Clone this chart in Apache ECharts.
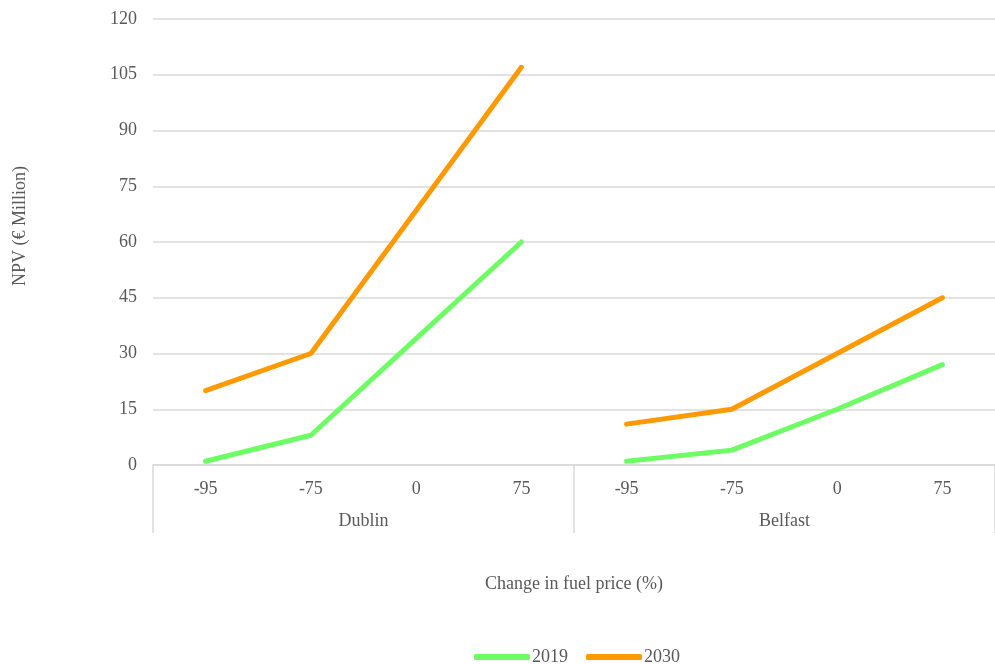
<!DOCTYPE html>
<html>
<head>
<meta charset="utf-8">
<script src="https://cdn.jsdelivr.net/npm/echarts@6/dist/echarts.min.js"></script>
<style>
  html, body { margin: 0; padding: 0; background: #fff; }
  #chart { width: 995px; height: 664px; }
</style>
</head>
<body>
<div id="chart"></div>
<script>
// Fuel price change scenarios, grouped by city
const priceChanges = ['-95', '-75', '0', '75'];
const cities = ['Dublin', 'Belfast'];
const years = ['2019', '2030'];

// NPV (€ Million) per city, per year, in priceChanges order
const dublin2019 = [1, 8, 34, 60];
const dublin2030 = [20, 30, 68.5, 107];
const belfast2019 = [1, 4, 15, 27];
const belfast2030 = [11, 15, 30, 45];

const yTicks = { min: 0, max: 120, interval: 15 };

const colors = { '2019': '#6dfc63', '2030': '#ff9900' };
const textColor = '#595959';
const gridColor = '#d9d9d9';
const fontFamily = '"Liberation Serif", "Times New Roman", serif';
const fontSize = 18;

// Full category list: every price change for each city
const categories = [];
cities.forEach(() => priceChanges.forEach(p => categories.push(p)));

// Place a city's values in its own block of the category axis, gaps elsewhere
function placeInBlock(values, cityIndex) {
  const out = categories.map(() => '-');
  values.forEach((v, i) => { out[cityIndex * priceChanges.length + i] = v; });
  return out;
}

const seriesData = {
  '2019': [dublin2019, belfast2019],
  '2030': [dublin2030, belfast2030]
};

const series = [];
years.forEach(year => {
  seriesData[year].forEach((vals, ci) => {
    series.push({
      name: year,
      type: 'line',
      data: placeInBlock(vals, ci),
      symbol: 'none',
      connectNulls: false,
      lineStyle: { color: colors[year], width: 5, cap: 'round', join: 'round' },
      itemStyle: { color: colors[year] },
      xAxisIndex: 0,
      z: year === '2030' ? 3 : 2
    });
  });
});

const chart = echarts.init(document.getElementById('chart'), null, { renderer: 'canvas' });

chart.setOption({
  backgroundColor: '#ffffff',
  animation: false,
  textStyle: { fontFamily: fontFamily },
  grid: { left: 153, right: -4, top: 19, bottom: 199 },
  legend: {
    data: years,
    left: 469,
    top: 643,
    icon: 'roundRect',
    itemWidth: 56,
    itemHeight: 6,
    itemGap: 18,
    textStyle: { color: textColor, fontSize: fontSize, fontFamily: fontFamily, padding: [0, 0, 0, -3] }
  },
  xAxis: [
    {
      type: 'category',
      data: categories,
      boundaryGap: true,
      axisLine: { show: true, lineStyle: { color: gridColor, width: 1.5 } },
      axisTick: { show: false },
      axisLabel: { color: textColor, fontSize: fontSize, fontFamily: fontFamily, margin: 15 },
      splitLine: { show: false }
    },
    {
      type: 'category',
      data: cities,
      position: 'bottom',
      boundaryGap: true,
      axisLine: { show: false },
      axisTick: { show: true, length: 68, lineStyle: { color: gridColor, width: 1.5 } },
      axisLabel: { color: textColor, fontSize: fontSize, fontFamily: fontFamily, margin: 47 },
      name: 'Change in fuel price (%)',
      nameLocation: 'middle',
      nameGap: 110,
      nameTextStyle: { color: textColor, fontSize: fontSize, fontFamily: fontFamily }
    }
  ],
  yAxis: {
    type: 'value',
    min: yTicks.min,
    max: yTicks.max,
    interval: yTicks.interval,
    axisLine: { show: false },
    axisTick: { show: false },
    axisLabel: { color: textColor, fontSize: fontSize, fontFamily: fontFamily, margin: 16 },
    splitLine: { lineStyle: { color: gridColor, width: 1.5 } }
  },
  graphic: [
    {
      type: 'text',
      left: 11,
      top: 166,
      style: {
        text: 'NPV (€ Million)',
        fill: textColor,
        font: fontSize + 'px ' + fontFamily
      },
      rotation: Math.PI / 2,
      originX: 0,
      originY: 0
    }
  ],
  series: series
});
</script>
</body>
</html>
